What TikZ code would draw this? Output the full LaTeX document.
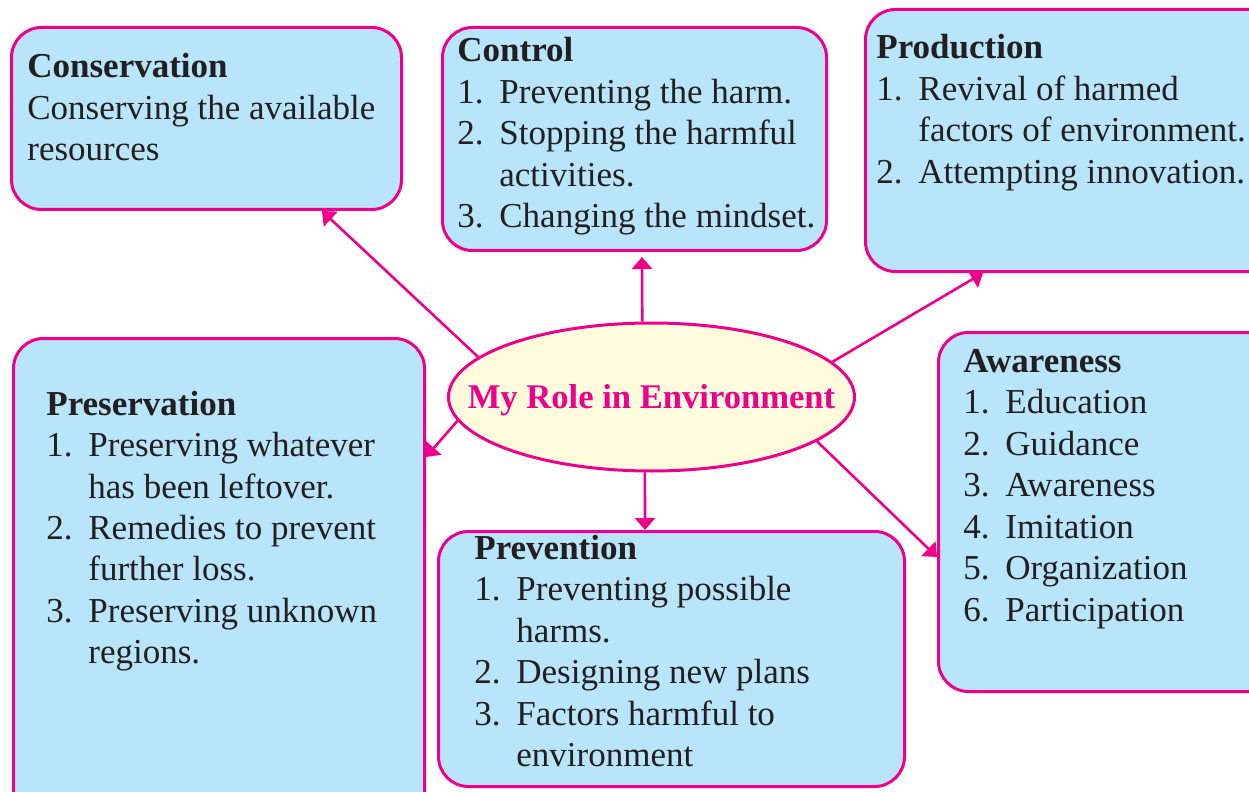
\documentclass[tikz,border=0pt]{standalone}
\usepackage{fontspec}
\setmainfont{Liberation Serif}
\usetikzlibrary{shapes.geometric,arrows.meta}
\definecolor{mag}{HTML}{EC008C}
\definecolor{boxblue}{HTML}{B9E5FA}
\definecolor{ellfill}{HTML}{FFFBDC}
\definecolor{txt}{HTML}{231F20}
\newcommand{\itm}[2]{\makebox[21pt][l]{#1}&#2\\}
\newcommand{\ttl}[1]{\multicolumn{2}{@{}l@{}}{\textbf{#1}}\\}
\begin{document}
\begin{tikzpicture}[x=0.5pt,y=-0.5pt,
  box/.style={draw=mag,fill=boxblue,line width=1.5pt,rounded corners=15pt,
    anchor=north west,inner sep=0pt,rectangle},
  btext/.style={anchor=base west,inner sep=0pt,text=txt,
    font=\fontsize{17.5}{20.75}\selectfont},
  conn/.style={draw=mag,line width=1.3pt,-{Triangle[length=6pt,width=10pt]}}]
\useasboundingbox (0,0) rectangle (1249,792);
\clip (0,0) rectangle (1249,792);
% boxes
\node[box,minimum width=195pt,minimum height=91pt] (cons) at (10,26) {};
\node[box,minimum width=192pt,minimum height=111.5pt] (ctrl) at (441,26) {};
\node[box,minimum width=218pt,minimum height=131pt] (prod) at (864,8) {};
\node[box,minimum width=205.5pt,minimum height=256.5pt] (pres) at (12,337) {};
\node[box,minimum width=233pt,minimum height=127.5pt] (prev) at (437,530) {};
\node[box,minimum width=181.5pt,minimum height=179.5pt] (awar) at (937,331) {};
% ellipse
\node[ellipse,draw=mag,fill=ellfill,line width=1.5pt,inner sep=0pt,
  minimum width=203pt,minimum height=74pt] (ell) at (651.5,397) {};
\node[text=mag,inner sep=0pt,font=\fontsize{17.3}{20.75}\selectfont\bfseries]
  (ellT) at ([yshift=-1.5pt]ell.center) {My Role in Environment};
% texts
\node[btext] (consT) at (27,78) {\begin{tabular}[t]{@{}l@{}}\textbf{Conservation}\\Conserving the available\\resources\end{tabular}};
\node[btext] (ctrlT) at (457,62) {\begin{tabular}[t]{@{}l@{}l@{}}\ttl{Control}
\itm{1.}{Preventing the harm.}
\itm{2.}{Stopping the harmful}
\itm{}{activities.}
\itm{3.}{Changing the mindset.}
\end{tabular}};
\node[btext] (prodT) at (876,59) {\begin{tabular}[t]{@{}l@{}l@{}}\ttl{Production}
\itm{1.}{Revival of harmed}
\itm{}{factors of environment.}
\itm{2.}{Attempting innovation.}
\end{tabular}};
\node[btext] (presT) at (46,415) {\begin{tabular}[t]{@{}l@{}l@{}}\ttl{Preservation}
\itm{1.}{Preserving whatever}
\itm{}{has been leftover.}
\itm{2.}{Remedies to prevent}
\itm{}{further loss.}
\itm{3.}{Preserving unknown}
\itm{}{regions.}
\end{tabular}};
\node[btext] (prevT) at (474,559) {\begin{tabular}[t]{@{}l@{}l@{}}\ttl{Prevention}
\itm{1.}{Preventing possible}
\itm{}{harms.}
\itm{2.}{Designing new plans}
\itm{3.}{Factors harmful to}
\itm{}{environment}
\end{tabular}};
\node[btext] (awarT) at (963,372) {\begin{tabular}[t]{@{}l@{}l@{}}\ttl{Awareness}
\itm{1.}{Education}
\itm{2.}{Guidance}
\itm{3.}{Awareness}
\itm{4.}{Imitation}
\itm{5.}{Organization}
\itm{6.}{Participation}
\end{tabular}};
% connectors
\draw[conn] (ell.167) -- ([xshift=156pt]cons.south west);
\draw[conn] (ell.97) -- ([xshift=100.5pt,yshift=-2.5pt]ctrl.south west);
\draw[conn] (ell.11) -- ([xshift=59.5pt]prod.south west);
\draw[conn] (ell.187) -- ([yshift=-60pt]pres.north east);
\draw[conn] (ell.265) -- ([xshift=104pt]prev.north west);
\draw[conn] (ell.345) -- ([yshift=-113pt]awar.north west);
\end{tikzpicture}
\end{document}
